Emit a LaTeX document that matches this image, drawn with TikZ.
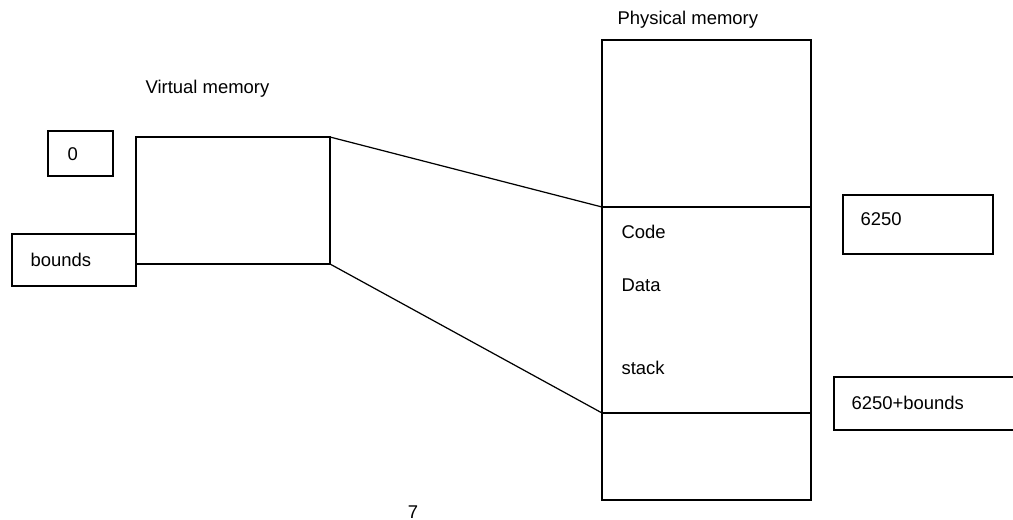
\documentclass[tikz,border=0pt]{standalone}
\usepackage{fontspec}
\setmainfont{Liberation Sans}

\tikzset{
    membox/.style={draw, inner sep=0pt, outer sep=0pt},
    memtxt/.style={anchor=west, inner sep=0pt}
}

\begin{document}
\begin{tikzpicture}[x=0.02cm, y=-0.02cm, line width=0.7pt, font=\fontsize{10.5}{12}\selectfont]
    \clip (0, 0) rectangle (1013, 520);

    \begin{scope}
        % Virtual memory
        \node[memtxt] (vtitle) at (145, 89) {Virtual memory};
        \node[membox, minimum width=3.88cm, minimum height=2.54cm] (virt) at (233, 200.5) {};

        % Base and bounds registers
        \node[membox, minimum width=1.3cm, minimum height=0.9cm] (zero) at (80.5, 153.5) {};
        \node[memtxt] (zerotxt) at (67, 154) {0};
        \node[membox, minimum width=2.48cm, minimum height=1.04cm] (bnds) at (74, 260) {};
        \node[memtxt] (bndstxt) at (30, 260) {bounds};
    \end{scope}

    \begin{scope}
        % Physical memory
        \node[memtxt] (ptitle) at (617, 20) {Physical memory};
        \node[membox, minimum width=4.18cm, minimum height=3.34cm] (phystop) at (706.5, 123.5) {};
        \node[membox, minimum width=4.18cm, minimum height=4.12cm] (physmid) at (706.5, 310) {};
        \node[membox, minimum width=4.18cm, minimum height=1.74cm] (physbot) at (706.5, 456.5) {};
        \draw[line width=1.6pt] (physmid.north west) -- (physmid.south west);

        % Segments
        \node[memtxt] (code) at (621, 232) {Code};
        \node[memtxt] (data) at (621, 285) {Data};
        \node[memtxt] (stack) at (621, 368) {stack};

        % Addresses
        \node[membox, minimum width=3.0cm, minimum height=1.18cm] (base) at (918, 224.5) {};
        \node[memtxt] (basetxt) at (860, 219) {6250};
        \node[membox, minimum width=3.72cm, minimum height=1.06cm] (limit) at (927, 403.5) {};
        \node[memtxt] (limittxt) at (851, 403) {6250+bounds};
    \end{scope}

    % Mapping
    \draw (virt.north east) -- (physmid.north west);
    \draw (virt.south east) -- (physmid.south west);

    % Page number
    \node (pageno) at (413, 512) {7};
\end{tikzpicture}
\end{document}
